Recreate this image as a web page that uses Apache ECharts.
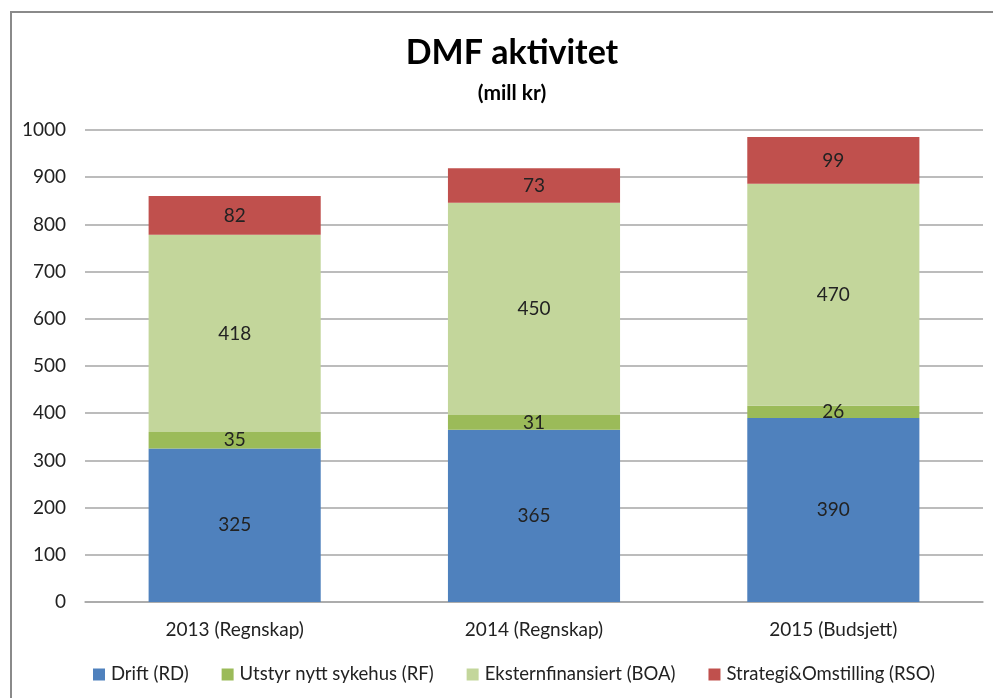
<!DOCTYPE html>
<html>
<head>
<meta charset="utf-8">
<script src="https://cdn.jsdelivr.net/npm/echarts@6/dist/echarts.min.js"></script>
<style>
  html, body { margin: 0; padding: 0; background: #fff; }
  #frame {
    position: absolute; left: 10px; top: 11px; width: 1000px; height: 700px;
    border-left: 2px solid #8a8a8a; border-top: 2px solid #8a8a8a;
  }
  #myChart { position: absolute; left: 0; top: 0; width: 993px; height: 698px; }
</style>
</head>
<body>
<div id="frame"></div>
<div id="myChart"></div>
<script>
// kategorier og verdier (mill kr)
var categories = ["2013 (Regnskap)", "2014 (Regnskap)", "2015 (Budsjett)"];
var seriesNames = ["Drift (RD)", "Utstyr nytt sykehus (RF)", "Eksternfinansiert (BOA)", "Strategi&Omstilling (RSO)"];
var drift = [325, 365, 390];
var utstyr = [35, 31, 26];
var ekstern = [418, 450, 470];
var strategi = [82, 73, 99];
var colors = ["#4F81BD", "#9BBB59", "#C3D69B", "#C0504D"];

var font = "Lato, 'Open Sans', sans-serif";
var myChart = echarts.init(document.getElementById("myChart"));

function bar(name, data, color) {
  return {
    name: name,
    type: "bar",
    stack: "total",
    barWidth: "57.5%",
    data: data,
    itemStyle: { color: color },
    label: {
      show: true,
      position: "inside",
      color: "#222",
      fontSize: 19,
      fontFamily: font
    }
  };
}

myChart.setOption({
  animation: false,
  title: [
    {
      text: "DMF aktivitet",
      left: 507,
      top: 31,
      textAlign: "center",
      textStyle: { fontSize: 34, fontWeight: "bold", color: "#000", fontFamily: font }
    },
    {
      text: "(mill kr)",
      left: 507,
      top: 78,
      textAlign: "center",
      textStyle: { fontSize: 21, fontWeight: "bold", color: "#000", fontFamily: font }
    }
  ],
  legend: {
    bottom: 9,
    left: 88,
    itemWidth: 12,
    itemHeight: 12,
    itemGap: 33,
    icon: "rect",
    selectedMode: false,
    data: seriesNames,
    textStyle: { fontSize: 18.5, color: "#222", fontFamily: font, padding: [0, 0, 0, 1] }
  },
  grid: {
    left: 85,
    right: 10,
    top: 130,
    bottom: 96,
    containLabel: false
  },
  xAxis: {
    type: "category",
    data: categories,
    axisLine: { lineStyle: { color: "#a6a6a6", width: 1.5 } },
    axisTick: { show: false },
    axisLabel: { fontSize: 19, color: "#222", fontFamily: font, margin: 18 }
  },
  yAxis: {
    type: "value",
    min: 0,
    max: 1000,
    interval: 100,
    axisLine: { show: false },
    axisTick: { show: false },
    splitLine: { lineStyle: { color: "#a6a6a6", width: 1.5 } },
    axisLabel: {
      fontSize: 19, color: "#222", fontFamily: font, margin: 19,
      formatter: function (v) { return String(v); }
    }
  },
  series: [
    bar(seriesNames[0], drift, colors[0]),
    bar(seriesNames[1], utstyr, colors[1]),
    bar(seriesNames[2], ekstern, colors[2]),
    bar(seriesNames[3], strategi, colors[3])
  ]
});
</script>
</body>
</html>
